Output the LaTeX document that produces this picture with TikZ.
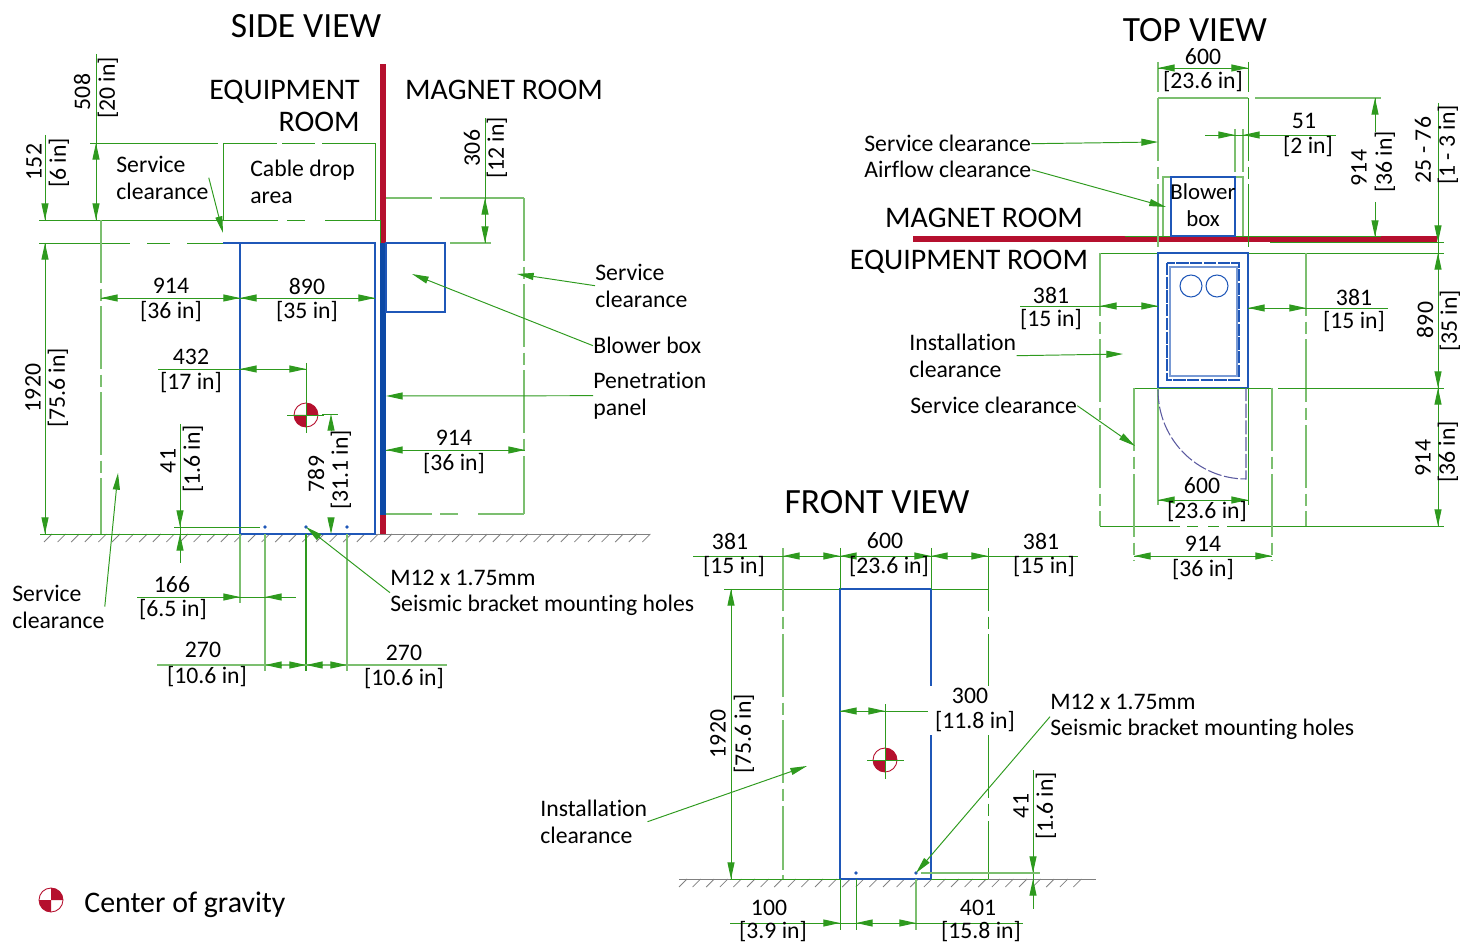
\documentclass[tikz,border=0pt]{standalone}
\usepackage{fontspec}
\setmainfont[Ligatures=NoCommon]{Carlito}
\usetikzlibrary{arrows.meta}
\definecolor{dimgreen}{HTML}{2E9A1E}
\definecolor{extgreen}{HTML}{7CBF70}
\definecolor{unitblue}{HTML}{1F57B8}
\definecolor{panelblue}{HTML}{0C49A6}
\definecolor{wallred}{HTML}{B5102E}
\definecolor{doorpurple}{HTML}{5B5AA0}
\tikzset{
	txt/.style={inner sep=0pt, align=left, font=\fontsize{13.5}{15.2}\selectfont},
	btxt/.style={txt, yshift=-.5pt},
	mtxt/.style={txt, anchor=west, yshift=-.4pt},
	vtxt/.style={inner sep=0pt, rotate=90, font=\fontsize{13.5}{15.2}\selectfont},
	roomtxt/.style={inner sep=0pt, align=right, font=\fontsize{17}{18.1}\selectfont},
	viewtxt/.style={inner sep=0pt, font=\fontsize{20.2}{23}\selectfont},
	dimline/.style={draw=dimgreen, line width=.55pt},
	extline/.style={draw=extgreen, line width=.85pt},
	extdash/.style={extline, dash pattern=on 36pt off 3pt on 7pt off 3pt},
	dimdash/.style={dimline, dash pattern=on 36pt off 3pt on 7pt off 3pt},
	tip/.style={draw=dimgreen, line width=.55pt, -{Triangle[length=9.5pt,width=4pt,fill=dimgreen]}},
	unit/.style={draw=unitblue, line width=.9pt},
	hatch/.style={draw=gray, line width=.45pt},
	cog/.pic={
		\draw[wallred, line width=.5pt, fill=white] (0,0) circle (12);
		\fill[wallred] (0,0) -- (12,0) .. controls (12,-6.6) and (6.6,-12) .. (0,-12) -- cycle;
		\fill[wallred] (0,0) -- (-12,0) .. controls (-12,6.6) and (-6.6,12) .. (0,12) -- cycle;
	}
}
\begin{document}
\begin{tikzpicture}[x=0.02cm, y=-0.02cm]
	\useasboundingbox (0,0) rectangle (1461,945);
	% side view
	\node[viewtxt] (sidetitle) at (306,26) {SIDE VIEW};
	\node[roomtxt, anchor=east] (sideequip) at (360,106) {EQUIPMENT\\ROOM};
	\node[roomtxt] (sidemagnet) at (504,90) {MAGNET ROOM};
	\fill[wallred] (380,64) rectangle (386,534);
	\fill[panelblue] (380,243) rectangle (386,515);
	\draw[hatch] (40,534.5) -- (650,534.5);
	\foreach \hx in {44,57.6,...,644}
		\draw[hatch] (\hx,542) -- (\hx+8,534);
	\draw[dimline] (40,534) -- (240,534);
	\draw[unit] (240,534) -- (240,243) -- (375,243) -- (375,534) -- cycle;
	\draw[unit] (223,243) -- (240,243);
	\draw[unit] (386,243) rectangle (445,312);
	\draw[dimline] (90,143) -- (218,143);
	\draw[dimline] (223,220) -- (223,143) -- (277,143);
	\draw[dimline] (282,143) -- (315,143);
	\draw[dimline] (322,143) -- (375,143) -- (375,220);
	\draw[dimline] (39,220) -- (278,220);
	\draw[dimline] (287,220) -- (305,220);
	\draw[dimline] (325,220) -- (380,220) -- (380,243);
	\draw[dimline] (39,243) -- (130,243);
	\draw[dimline] (147,243) -- (170,243);
	\draw[dimline] (187,243) -- (223,243);
	\draw[extdash] (101,220) -- (101,534);
	\draw[extline] (386,198) -- (432,198);
	\draw[extline] (440,198) -- (524,198);
	\draw[extdash] (524,198) -- (524,514);
	\draw[extline] (386,514) -- (432,514);
	\draw[extline] (440,514) -- (458,514);
	\draw[extline] (478,514) -- (524,514);
	\draw[extline] (450,243) -- (491,243);
	% side view dimensions
	\draw[dimline] (96,54) -- (96,220);
	\draw[tip] (96,159) -- (96,143);
	\draw[tip] (96,204) -- (96,220);
	\node[vtxt] (s508) at (82,92) {508};
	\node[vtxt] (s20in) at (108,88) {[20 in]};
	\draw[dimline] (45,135) -- (45,220);
	\draw[tip] (45,204) -- (45,220);
	\node[vtxt] (s152) at (34,162) {152};
	\node[vtxt] (s6in) at (59,163) {[6 in]};
	\draw[dimline] (45,243) -- (45,534);
	\draw[tip] (45,259) -- (45,243);
	\draw[tip] (45,518) -- (45,534);
	\node[vtxt] (s1920) at (33,388) {1920};
	\node[vtxt] (s756in) at (58,388) {[75.6 in]};
	\draw[dimline] (101,298) -- (375,298);
	\draw[tip] (117,298) -- (101,298);
	\draw[tip] (224,298) -- (240,298);
	\draw[tip] (256,298) -- (240,298);
	\draw[tip] (359,298) -- (375,298);
	\node[txt] (s914a) at (171,286) {914};
	\node[btxt] (s36ina) at (171,311) {[36 in]};
	\node[txt] (s890) at (307,286) {890};
	\node[btxt] (s35in) at (307,311) {[35 in]};
	\draw[dimline] (158,369) -- (306,369);
	\draw[tip] (256,369) -- (240,369);
	\draw[tip] (290,369) -- (306,369);
	\pic at (306,415) {cog};
	\draw[dimline] (306,363) -- (306,433);
	\draw[dimline] (287,415) -- (324,415);
	\node[txt] (s432) at (191,357) {432};
	\node[btxt] (s17in) at (191,382) {[17 in]};
	\draw[dimline] (322,414) -- (338,414);
	\draw[tip] (331,430) -- (331,414);
	\draw[tip] (331,518) -- (331,534);
	\node[vtxt] (s789) at (316,474) {789};
	\node[vtxt] (s311in) at (341,470) {[31.1 in]};
	\draw[dimline] (180,424) -- (180,563);
	\draw[dimline] (174,527) -- (260,527);
	\draw[tip] (180,511) -- (180,527);
	\draw[tip] (180,550) -- (180,534);
	\node[vtxt] (s41) at (168,461) {41};
	\node[vtxt] (s16in) at (193,459) {[1.6 in]};
	\foreach \dx in {265,306,347}
		\fill[unitblue] (\dx,527) circle (1.8);
	\draw[extline] (240,534) -- (240,603);
	\draw[extline] (265,534) -- (265,671);
	\draw[dimline, line width=.85pt] (306,534) -- (306,671);
	\draw[extline] (347,534) -- (347,671);
	\draw[dimline] (137,597) -- (296,597);
	\draw[tip] (224,597) -- (240,597);
	\draw[tip] (281,597) -- (265,597);
	\node[txt] (s166) at (172,585) {166};
	\node[btxt] (s65in) at (173,609) {[6.5 in]};
	\draw[extline] (157,665) -- (447,665);
	\draw[tip] (281,665) -- (265,665);
	\draw[tip] (290,665) -- (306,665);
	\draw[tip] (322,665) -- (306,665);
	\draw[tip] (331,665) -- (347,665);
	\node[txt] (s270a) at (203,650) {270};
	\node[btxt] (s106ina) at (207,676) {[10.6 in]};
	\node[txt] (s270b) at (404,653) {270};
	\node[btxt] (s106inb) at (404,678) {[10.6 in]};
	\draw[dimline] (485,118) -- (485,243);
	\draw[tip] (485,214) -- (485,198);
	\draw[tip] (485,227) -- (485,243);
	\node[vtxt] (s306) at (472,148) {306};
	\node[vtxt] (s12in) at (497,148) {[12 in]};
	\draw[dimline] (386,450) -- (525,450);
	\draw[tip] (402,450) -- (386,450);
	\draw[tip] (509,450) -- (525,450);
	\node[txt] (s914b) at (454,438) {914};
	\node[btxt] (s36inb) at (454,463) {[36 in]};
	% side view callouts
	\node[mtxt] (sservtop) at (116,177) {Service\\clearance};
	\node[mtxt] (scable) at (250,181) {Cable drop\\area};
	\node[mtxt] (sservbot) at (12,606) {Service\\clearance};
	\node[mtxt] (sservright) at (595,285) {Service\\clearance};
	\node[mtxt] (sblower) at (593,345) {Blower box};
	\node[mtxt] (spanel) at (593,395) {Penetration\\panel};
	\node[mtxt] (sholes) at (390,592) {M12 x 1.75mm\\Seismic bracket mounting holes};
	\draw[tip] (sservtop.east) -- (223,233);
	\draw[tip] (sservbot.east) -- (118,473);
	\draw[tip] (sservright.west) -- (517,274);
	\draw[tip] (sblower.west) -- (412,274);
	\draw[tip] (spanel.west) -- (386,396);
	\draw[tip] (sholes.west) -- (306,527);
	% top view
	\node[viewtxt] (toptitle) at (1195,30) {TOP VIEW};
	\node[roomtxt] (topmagnet) at (984,218) {MAGNET ROOM};
	\node[roomtxt] (topequip) at (969,262) {EQUIPMENT ROOM};
	\fill[wallred] (913,236) rectangle (1437,242);
	\draw[dimline] (1125,236) -- (1381,236);
	\draw[dimline] (1270,242) -- (1444,242);
	\draw[extline] (1158,98) -- (1248,98);
	\draw[extline] (1255,98) -- (1381,98);
	\draw[extline] (1158,62) -- (1158,92);
	\draw[dimline] (1248,62) -- (1248,92);
	\draw[extdash] (1158,98) -- (1158,253);
	\draw[dimdash] (1248,98) -- (1248,253);
	\draw[extline] (1163,236) -- (1163,177) -- (1243,177) -- (1243,236);
	\draw[unit] (1171,177) rectangle (1235,236);
	\node[txt, align=center, font=\fontsize{13}{15.2}\selectfont] (tblower) at (1203,205.5) {Blower\\box};
	\draw[dimline] (1158,68) -- (1248,68);
	\draw[tip] (1174,68) -- (1158,68);
	\draw[tip] (1232,68) -- (1248,68);
	\node[txt] (t600a) at (1203,57) {600};
	\node[btxt] (t236ina) at (1203,81) {[23.6 in]};
	\draw[extline] (1235,129) -- (1235,172);
	\draw[extline] (1243,129) -- (1243,172);
	\draw[dimline] (1205,135) -- (1336,135);
	\draw[tip] (1219,135) -- (1235,135);
	\draw[tip] (1259,135) -- (1243,135);
	\node[txt] (t51) at (1304,121) {51};
	\node[btxt] (t2in) at (1308,146) {[2 in]};
	\draw[dimline] (1375,98) -- (1375,132);
	\draw[dimline] (1375,202) -- (1375,237);
	\draw[tip] (1375,114) -- (1375,98);
	\draw[tip] (1375,221) -- (1375,237);
	\node[vtxt] (t914a) at (1359,168) {914};
	\node[vtxt] (t36ina) at (1385,162) {[36 in]};
	\draw[dimline] (1438,103) -- (1438,526);
	\draw[tip] (1438,226) -- (1438,242);
	\draw[tip] (1438,269) -- (1438,253);
	\draw[tip] (1438,372) -- (1438,388);
	\draw[tip] (1438,404) -- (1438,388);
	\draw[tip] (1438,510) -- (1438,526);
	\node[vtxt] (t2576) at (1423,150) {25 - 76};
	\node[vtxt] (t13in) at (1448,145) {[1 - 3 in]};
	\node[vtxt] (t890) at (1425,320) {890};
	\node[vtxt] (t35in) at (1450,321) {[35 in]};
	\node[vtxt] (t914b) at (1423,458) {914};
	\node[vtxt] (t36inb) at (1448,452) {[36 in]};
	\draw[dimline] (1100,253) -- (1444,253);
	\draw[dimline] (1100,526) -- (1180,526);
	\draw[dimline] (1187,526) -- (1198,526);
	\draw[dimline] (1208,526) -- (1219,526);
	\draw[dimline] (1227,526) -- (1444,526);
	\draw[extdash] (1100,253) -- (1100,526);
	\draw[extdash] (1306,253) -- (1306,526);
	\draw[unit] (1158,253) rectangle (1248,388);
	\draw[unit, dash pattern=on 7pt off .8pt] (1167,263) rectangle (1239,380);
	\draw[unit, draw opacity=.6] (1170,267) rectangle (1237,376);
	\draw[unit, line width=.6pt] (1191,286) circle (11);
	\draw[unit, line width=.6pt] (1217,286) circle (11);
	\draw[dimline] (1134,388) -- (1272,388);
	\draw[dimline] (1278,388) -- (1444,388);
	\draw[extdash] (1134,388) -- (1134,561);
	\draw[extdash] (1272,388) -- (1272,561);
	\draw[extline] (1158,388) -- (1158,505);
	\draw[dimline] (1248,388) -- (1248,505);
	\draw[doorpurple, line width=.6pt, dash pattern=on 8pt off 1.5pt] (1158,390) .. controls (1158,440) and (1198,479) .. (1246,479) -- (1246,388);
	\draw[dimline] (1158,500) -- (1248,500);
	\draw[tip] (1174,500) -- (1158,500);
	\draw[tip] (1232,500) -- (1248,500);
	\node[txt] (t600b) at (1202,486) {600};
	\node[btxt] (t236inb) at (1207,511) {[23.6 in]};
	\draw[dimline] (1134,556) -- (1272,556);
	\draw[tip] (1150,556) -- (1134,556);
	\draw[tip] (1256,556) -- (1272,556);
	\node[txt] (t914c) at (1203,544) {914};
	\node[btxt] (t36inc) at (1203,569) {[36 in]};
	\draw[dimline] (1020,306) -- (1158,306);
	\draw[tip] (1116,306) -- (1100,306);
	\draw[tip] (1142,306) -- (1158,306);
	\node[txt] (t381a) at (1051,295) {381};
	\node[btxt] (t15ina) at (1051,319) {[15 in]};
	\draw[dimline] (1248,308) -- (1388,308);
	\draw[tip] (1264,308) -- (1248,308);
	\draw[tip] (1290,308) -- (1306,308);
	\node[txt] (t381b) at (1354,297) {381};
	\node[btxt] (t15inb) at (1354,321) {[15 in]};
	% top view callouts
	\node[mtxt] (tserv) at (864,143) {Service clearance};
	\node[mtxt] (tair) at (864,169) {Airflow clearance};
	\node[mtxt] (tinst) at (909,355) {Installation\\clearance};
	\node[mtxt] (tservb) at (910,405) {Service clearance};
	\draw[tip] (tserv.east) -- (1158,142);
	\draw[tip] (tair.east) -- (1166,207);
	\draw[tip] (tinst.east) -- (1123,354);
	\draw[tip] (tservb.east) -- (1135,446);
	% front view
	\node[viewtxt] (fronttitle) at (877,502) {FRONT VIEW};
	\draw[hatch] (679,879.5) -- (1096,879.5);
	\foreach \hx in {679,692.6,...,1085}
		\draw[hatch] (\hx,887) -- (\hx+8,879);
	\draw[dimline] (730,879) -- (988,879);
	\draw[dimline] (724,589) -- (988,589);
	\draw[unit] (840,879) -- (840,589) -- (931,589) -- (931,686);
	\draw[unit] (931,735) -- (931,879);
	\draw[unit, line width=.6pt] (840,879) -- (931,879);
	\draw[extdash] (783,548) -- (783,879);
	\draw[dimdash] (988,548) -- (988,686);
	\draw[dimdash] (988,735) -- (988,879);
	\draw[dimline] (840,548) -- (840,589);
	\draw[dimline] (931,548) -- (931,589);
	\draw[dimline] (693,556) -- (1078,556);
	\draw[tip] (799,556) -- (783,556);
	\draw[tip] (824,556) -- (840,556);
	\draw[tip] (856,556) -- (840,556);
	\draw[tip] (915,556) -- (931,556);
	\draw[tip] (947,556) -- (931,556);
	\draw[tip] (972,556) -- (988,556);
	\node[txt] (f381a) at (730,541) {381};
	\node[btxt] (f15ina) at (734,566) {[15 in]};
	\node[txt] (f600) at (885,541) {600};
	\node[btxt] (f236in) at (889,566) {[23.6 in]};
	\node[txt] (f381b) at (1041,541) {381};
	\node[btxt] (f15inb) at (1044,566) {[15 in]};
	\draw[dimline] (731,589) -- (731,879);
	\draw[tip] (731,605) -- (731,589);
	\draw[tip] (731,863) -- (731,879);
	\node[vtxt] (f1920) at (718,734) {1920};
	\node[vtxt] (f756in) at (744,734) {[75.6 in]};
	\draw[dimline] (840,711) -- (928,711);
	\draw[tip] (856,711) -- (840,711);
	\draw[tip] (869,711) -- (885,711);
	\pic at (885,760) {cog};
	\draw[dimline] (885,704) -- (885,779);
	\draw[dimline] (867,760) -- (904,760);
	\node[txt] (f300) at (970,696) {300};
	\node[btxt] (f118in) at (975,721) {[11.8 in]};
	\foreach \dx in {856,916}
		\fill[unitblue] (\dx,873) circle (1.8);
	\draw[dimline] (1033,770) -- (1033,909);
	\draw[extline] (921,873) -- (1040,873);
	\draw[tip] (1033,857) -- (1033,873);
	\draw[tip] (1033,895) -- (1033,879);
	\node[vtxt] (f41) at (1021,806) {41};
	\node[vtxt] (f16in) at (1046,806) {[1.6 in]};
	\draw[dimline] (840,879) -- (840,930);
	\draw[dimline] (856,879) -- (856,930);
	\draw[extline] (916,879) -- (916,930);
	\draw[dimline] (730,923) -- (1023,923);
	\draw[tip] (824,923) -- (840,923);
	\draw[tip] (872,923) -- (856,923);
	\draw[tip] (900,923) -- (916,923);
	\node[txt] (f100) at (769,908) {100};
	\node[txt] (f39in) at (773,932) {[3.9 in]};
	\node[txt] (f401) at (978,908) {401};
	\node[txt] (f158in) at (981,932) {[15.8 in]};
	% front view callouts
	\node[mtxt] (finst) at (540,821) {Installation\\clearance};
	\node[mtxt] (fholes) at (1050,716) {M12 x 1.75mm\\Seismic bracket mounting holes};
	\draw[tip] (finst.east) -- (807,766);
	\draw[tip] (fholes.west) -- (916,873);
	% legend
	\pic at (51,900) {cog};
	\node[inner sep=0pt, anchor=west, font=\fontsize{17}{19}\selectfont] (legend) at (84,905) {Center of gravity};
\end{tikzpicture}
\end{document}
